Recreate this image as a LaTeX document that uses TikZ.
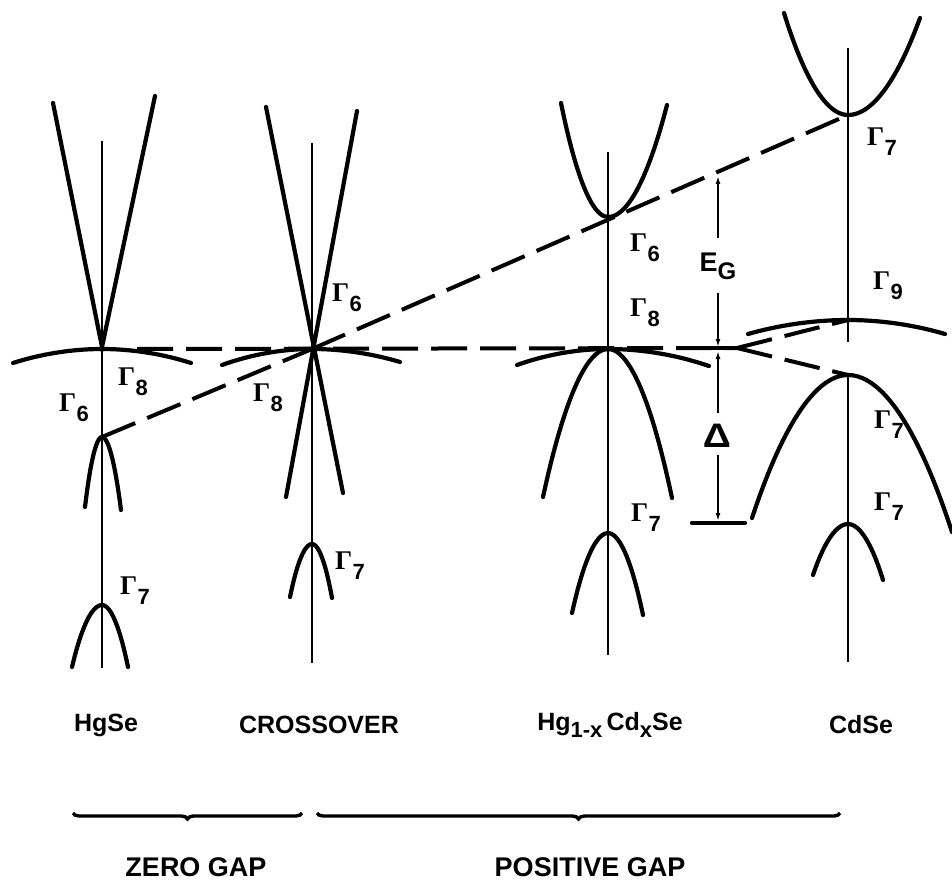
\documentclass[tikz,border=0pt]{standalone}
\usepackage{fontspec}
\setsansfont{Liberation Sans}
\newfontfamily\gfont{Liberation Serif}
\usetikzlibrary{decorations.pathreplacing,arrows.meta}
\newcommand\Gm[1]{{\gfont\bfseries\fontsize{27}{27}\selectfont Γ}\kern0.5pt\raisebox{-10pt}{\fontsize{22}{22}\selectfont\sffamily\bfseries #1}}
\begin{document}
\begin{tikzpicture}[x=1pt,y=-1pt,
  axisline/.style={line width=2.6pt},
  band/.style={line width=4.2pt,line cap=round},
  dashline/.style={line width=4pt,dash pattern=on 36pt off 13pt},
  arr/.style={line width=2pt,-{Latex[length=8pt,width=5pt]}},
  lbl/.style={inner sep=0pt,anchor=center},
  matname/.style={inner sep=0pt,anchor=center,font=\sffamily\bfseries\fontsize{25}{25}\selectfont},
  grp/.style={inner sep=0pt,anchor=center,font=\sffamily\bfseries\fontsize{27}{27}\selectfont},
  brc/.style={line width=3.4pt,decorate,decoration={brace,mirror,amplitude=6pt}}]
\useasboundingbox (0,0) rectangle (952,885);

% key points
\coordinate (hgG6) at (102,437);
\coordinate (cx) at (312,349);
\coordinate (hgc) at (608,349);
\coordinate (mixG6) at (608,217);
\coordinate (cdG7) at (848,115);
\coordinate (cdG9) at (848,320);
\coordinate (cdG7v) at (848,375);
\coordinate (vtx) at (737,348);
\coordinate (hs) at (137,349);

% axes
\draw[axisline] (102,141) -- (102,668);
\draw[axisline] (312,143) -- (312,663);
\draw[axisline] (608,152) -- (608,655);
\draw[axisline] (848,48) -- (848,342);
\draw[axisline] (848,375) -- (848,662);

% HgSe
\draw[band] (53,103) -- (102,347) -- (155,96);
\draw[band] (13,363) parabola bend (102,349) (191,363);
\draw[band] (85,507) parabola bend (hgG6) (121,510);
\draw[band] (72,667) parabola bend (102,605) (128,667);

% crossover
\draw[band] (266,107) -- (343,493);
\draw[band] (357,111) -- (286,497);
\draw[band] (222,365) parabola bend (cx) (400,362);
\draw[band] (290,597) parabola bend (312,544) (332,598);

% Hg1-xCdxSe
\draw[band] (561,103) parabola bend (mixG6) (667,105);
\draw[band] (543,497) parabola bend (hgc) (672,498);
\draw[band] (517,365) parabola bend (hgc) (709,366);
\draw[band] (572,613) parabola bend (608,533) (643,615);

% CdSe
\draw[band] (784,13) parabola bend (cdG7) (920,18);
\draw[band] (748,334) parabola bend (cdG9) (945,334);
\draw[band] (752,518) parabola bend (cdG7v) (952,532);
\draw[band] (813,575) parabola bend (848,524) (883,580);

% dashed lines
\draw[dashline] (hgG6) -- (cx);
\draw[dashline] (hs) -- (vtx);
\draw[dashline] (cx) -- (cdG7);
\draw[dashline] (vtx) -- (cdG9);
\draw[dashline] (vtx) -- (cdG7v);

% gap arrows
\draw[band] (703,348) -- (727,348);
\draw[arr] (718,238) -- (718,176);
\draw[arr] (718,293) -- (718,347);
\draw[arr] (718,413) -- (718,351);
\draw[arr] (718,455) -- (718,521);
\draw[band] (692,523) -- (745,523);
\node[lbl] (eg) at (718,266) {\sffamily\bfseries\fontsize{27}{27}\selectfont E\raisebox{-8pt}{\fontsize{24}{24}\selectfont G}};
\node[lbl] (dl) at (717,436) {\sffamily\bfseries\fontsize{34}{34}\selectfont\scalebox{1.15}[1]{Δ}};

% Gamma labels
\node[lbl] (a6) at (74,408) {\Gm{6}};
\node[lbl] (a8) at (133,382) {\Gm{8}};
\node[lbl] (a7) at (135,591) {\Gm{7}};
\node[lbl] (b6) at (347,298) {\Gm{6}};
\node[lbl] (b8) at (268,398) {\Gm{8}};
\node[lbl] (b7) at (350,566) {\Gm{7}};
\node[lbl] (c6) at (645,248) {\Gm{6}};
\node[lbl] (c8) at (645,313) {\Gm{8}};
\node[lbl] (c7) at (646,518) {\Gm{7}};
\node[lbl] (d7) at (882,142) {\Gm{7}};
\node[lbl] (d9) at (888,286) {\Gm{9}};
\node[lbl] (d7b) at (889,425) {\Gm{7}};
\node[lbl] (d7c) at (889,507) {\Gm{7}};

% material names
\node[matname] (n1) at (106,725) {HgSe};
\node[matname] (n2) at (319,725) {CROSSOVER};
\node[matname] (n3) at (610,725) {Hg\raisebox{-7pt}{\fontsize{22}{22}\selectfont 1-x}\,Cd\raisebox{-7pt}{\fontsize{22}{22}\selectfont x}Se};
\node[matname] (n4) at (861,725) {CdSe};

% braces
\draw[brc] (73,813) -- (302,813);
\draw[brc] (317,813) -- (840,813);
\node[grp] (g1) at (196,867) {ZERO GAP};
\node[grp] (g2) at (590,867) {POSITIVE GAP};
\end{tikzpicture}
\end{document}
